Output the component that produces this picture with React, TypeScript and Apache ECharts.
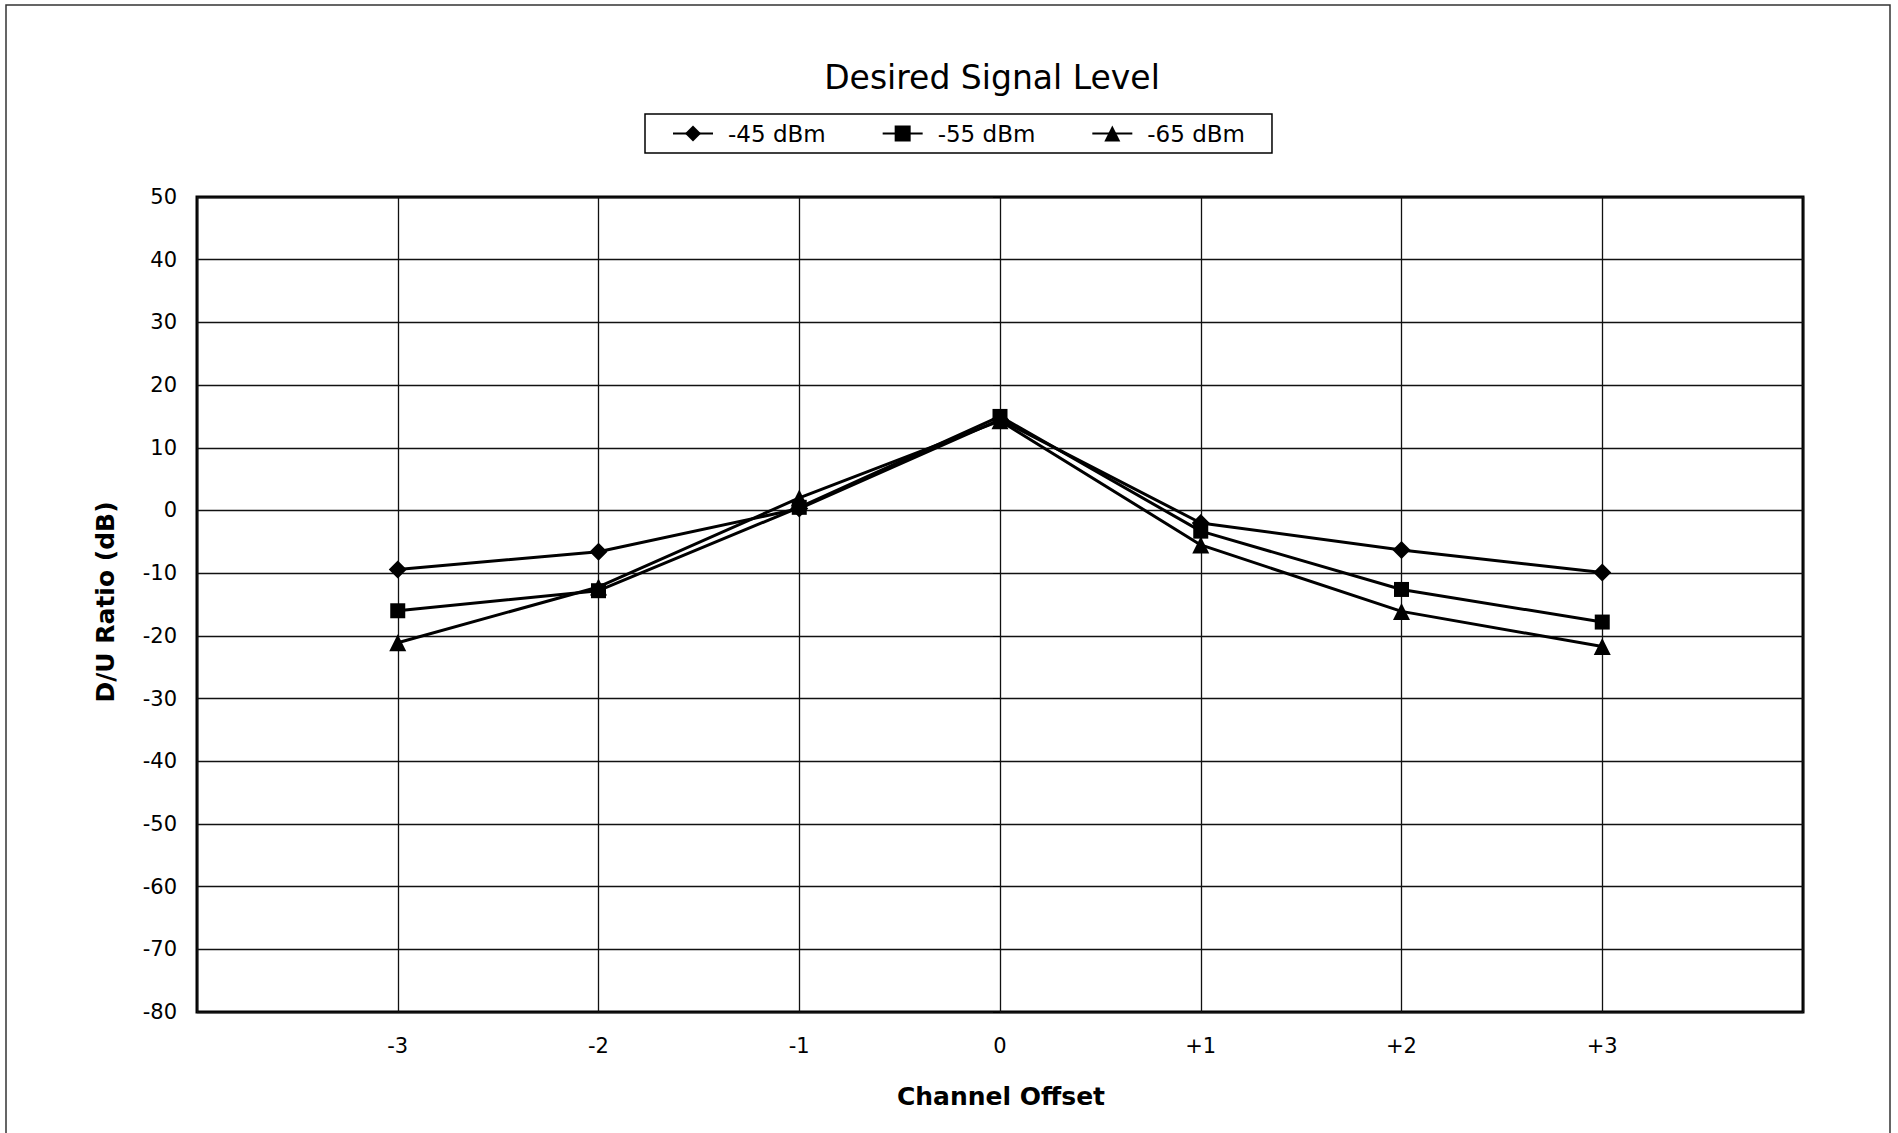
import React, { useEffect, useRef } from "react";
import * as echarts from "echarts";

const chartTitle = "Desired Signal Level";
const xAxisTitle = "Channel Offset";
const yAxisTitle = "D/U Ratio (dB)";

const offsets = [-3, -2, -1, 0, 1, 2, 3];
const offsetLabels = ["-3", "-2", "-1", "0", "+1", "+2", "+3"];

const seriesNames = ["-45 dBm", "-55 dBm", "-65 dBm"];
const seriesSymbols = ["diamond", "rect", "triangle"];
const seriesSymbolSizes = [18, 15, 17];

const level45 = [-9.4, -6.6, 0.3, 14.5, -2.0, -6.3, -9.9];
const level55 = [-16.0, -12.8, 0.5, 15.0, -3.3, -12.6, -17.8];
const level65 = [-21.1, -12.2, 2.0, 14.3, -5.5, -16.1, -21.7];

const yMin = -80;
const yMax = 50;
const yStep = 10;
const xMin = -4;
const xMax = 4;

const FONT = "'DejaVu Sans', 'Liberation Sans', Arial, sans-serif";

export default function App() {
  const ref = useRef<HTMLDivElement>(null);

  useEffect(() => {
    if (!ref.current) return;
    const chart = echarts.init(ref.current, undefined, { renderer: "svg" });
    const allLevels = [level45, level55, level65];

    const series = allLevels.map((vals, i) => ({
      name: seriesNames[i],
      type: "line",
      data: offsets.map((x, j) => [x, vals[j]]),
      symbol: seriesSymbols[i],
      symbolSize: seriesSymbolSizes[i],
      lineStyle: { color: "#000", width: 3 },
      itemStyle: { color: "#000" },
      z: 5,
    }));

    chart.setOption({
      animation: false,
      backgroundColor: "#fff",
      textStyle: { fontFamily: FONT },
      grid: {
        left: 197,
        right: 95,
        top: 197,
        bottom: 121,
        show: true,
        borderColor: "#000",
        borderWidth: 3,
        backgroundColor: "transparent",
      },
      legend: {
        data: seriesNames,
        left: 645,
        top: 114,
        orient: "horizontal",
        itemWidth: 40,
        itemHeight: 20,
        itemGap: 56,
        padding: [8, 27],
        borderColor: "#000",
        borderWidth: 1.5,
        backgroundColor: "#fff",
        textStyle: {
          fontFamily: FONT,
          fontSize: 23,
          color: "#000",
          padding: [0, 0, 0, 10],
        },
      },
      xAxis: {
        type: "value",
        min: xMin,
        max: xMax,
        interval: 1,
        axisLine: { show: false },
        axisTick: { show: false },
        splitLine: { show: true, lineStyle: { color: "#111", width: 1.3 } },
        axisLabel: {
          margin: 23,
          fontSize: 21,
          fontFamily: FONT,
          color: "#000",
          formatter: (v: number) => {
            const idx = offsets.indexOf(v);
            return idx >= 0 ? offsetLabels[idx] : "";
          },
        },
      },
      yAxis: {
        type: "value",
        min: yMin,
        max: yMax,
        interval: yStep,
        axisLine: { show: false },
        axisTick: {
          show: true,
          inside: false,
          length: 7,
          lineStyle: { color: "#000", width: 1 },
        },
        splitLine: { show: true, lineStyle: { color: "#111", width: 1.3 } },
        axisLabel: {
          margin: 20,
          fontSize: 21,
          fontFamily: FONT,
          color: "#000",
        },
      },
      graphic: [
        {
          type: "rect",
          shape: { x: 6, y: 5, width: 1884, height: 1200 },
          style: { fill: "none", stroke: "#333", lineWidth: 1.5 },
          silent: true,
          z: -1,
        },
        {
          type: "text",
          x: 992,
          y: 77,
          style: {
            text: chartTitle,
            font: `33px ${FONT}`,
            fill: "#000",
            textAlign: "center",
            textVerticalAlign: "middle",
          },
        },
        {
          type: "text",
          x: 1001,
          y: 1096,
          style: {
            text: xAxisTitle,
            font: `bold 25px ${FONT}`,
            fill: "#000",
            textAlign: "center",
            textVerticalAlign: "middle",
          },
        },
        {
          type: "text",
          x: 105,
          y: 602,
          rotation: Math.PI / 2,
          style: {
            text: yAxisTitle,
            font: `bold 25px ${FONT}`,
            fill: "#000",
            textAlign: "center",
            textVerticalAlign: "middle",
          },
        },
      ],
      series,
    });

    return () => {
      chart.dispose();
    };
  }, []);

  return (
    <div
      ref={ref}
      style={{ position: "absolute", left: 0, top: 0, width: 1898, height: 1133 }}
    />
  );
}
